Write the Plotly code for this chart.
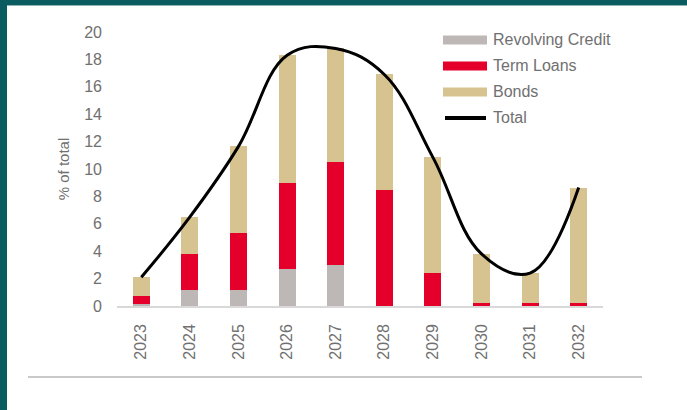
import plotly.graph_objects as go

years = ["2023", "2024", "2025", "2026", "2027", "2028", "2029", "2030", "2031", "2032"]
revolving_credit = [0.15, 1.2, 1.2, 2.7, 3.0, 0.0, 0.0, 0.0, 0.0, 0.0]
term_loans = [0.6, 2.6, 4.15, 6.3, 7.5, 8.5, 2.4, 0.25, 0.25, 0.25]
bonds = [1.35, 2.7, 6.3, 9.3, 8.3, 8.4, 8.45, 3.55, 2.15, 8.4]
total = [2.1, 6.5, 11.65, 18.3, 18.8, 16.9, 10.85, 3.8, 2.4, 8.65]
y_ticks = [0, 2, 4, 6, 8, 10, 12, 14, 16, 18, 20]

C_RC = "#BDB7B5"
C_TL = "#E4002B"
C_BD = "#D6C38F"
TEAL = "#0B5C60"
TXT = "#707070"

W, H = 687, 410
L, R, T, B = 117, 84, 32, 104
PW, PH = W - L - R, H - T - B

def px(x):
    return (x - L) / PW

def py(y):
    return (H - B - y) / PH

fig = go.Figure()
fig.add_bar(x=years, y=revolving_credit, name="Revolving Credit", marker_color=C_RC, marker_line_width=0)
fig.add_bar(x=years, y=term_loans, name="Term Loans", marker_color=C_TL, marker_line_width=0)
fig.add_bar(x=years, y=bonds, name="Bonds", marker_color=C_BD, marker_line_width=0)
fig.add_scatter(x=years, y=total, name="Total", mode="lines",
                line=dict(color="black", width=3, shape="spline", smoothing=1.1))

shapes = []
annotations = []
# teal frame
shapes.append(dict(type="rect", xref="paper", yref="paper", x0=px(0), x1=px(7), y0=py(H), y1=py(0),
                   fillcolor=TEAL, line_width=0, layer="above"))
shapes.append(dict(type="rect", xref="paper", yref="paper", x0=px(0), x1=px(W), y0=py(5), y1=py(0),
                   fillcolor=TEAL, line_width=0, layer="above"))
shapes.append(dict(type="line", xref="paper", yref="paper", x0=px(7), x1=px(W), y0=py(5.5), y1=py(5.5),
                   line=dict(color="#8FB5B6", width=1)))
# bottom rule
shapes.append(dict(type="line", xref="paper", yref="paper", x0=px(28), x1=px(642), y0=py(377), y1=py(377),
                   line=dict(color="#C9C9C9", width=2)))

# legend
leg_items = [("Revolving Credit", C_RC, 40, "bar"), ("Term Loans", C_TL, 66, "bar"),
             ("Bonds", C_BD, 92, "bar"), ("Total", "black", 118, "line")]
for name, col, yc, kind in leg_items:
    if kind == "bar":
        shapes.append(dict(type="rect", xref="paper", yref="paper", x0=px(443), x1=px(487),
                           y0=py(yc + 4.5), y1=py(yc - 4.5), fillcolor=col, line_width=0))
    else:
        shapes.append(dict(type="line", xref="paper", yref="paper", x0=px(445), x1=px(486),
                           y0=py(yc), y1=py(yc), line=dict(color=col, width=4)))
    annotations.append(dict(text=name, xref="paper", yref="paper", x=px(491), y=py(yc),
                            xanchor="left", yanchor="middle", showarrow=False,
                            font=dict(size=16, color=TXT, family="Liberation Sans, Arial")))

fig.update_layout(
    width=W, height=H,
    margin=dict(l=L, r=R, t=T, b=B, pad=0),
    barmode="stack", bargap=0.65,
    showlegend=False,
    paper_bgcolor="white", plot_bgcolor="white",
    font=dict(family="Liberation Sans, Arial", color=TXT),
    shapes=shapes, annotations=annotations,
    xaxis=dict(type="category", range=[-0.5, 9.5], showgrid=False, showline=True,
               linecolor="#D9D9D9", linewidth=1.5, ticks="", tickangle=-90,
               tickfont=dict(size=16, color=TXT), ticklabelstandoff=10),
    yaxis=dict(range=[0, 20], tickvals=y_ticks, showgrid=False, showline=False, zeroline=False,
               ticks="", tickfont=dict(size=16, color=TXT), ticklabelstandoff=14,
               title=dict(text="% of total", font=dict(size=15, color=TXT), standoff=10)),
)

fig.write_html("out.html", config={"displayModeBar": False},
               post_script="document.body.style.margin='0';document.body.style.overflow='hidden';")
